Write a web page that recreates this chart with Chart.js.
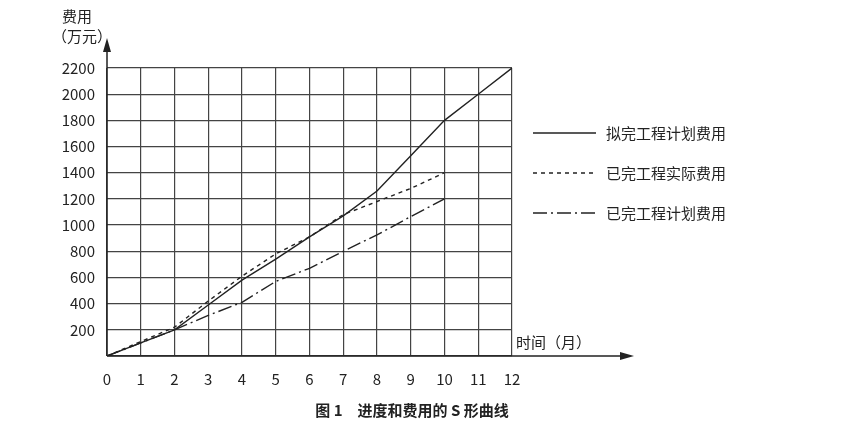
<!DOCTYPE html>
<html>
<head>
<meta charset="utf-8">
<script src="https://cdn.jsdelivr.net/npm/chart.js"></script>
<style>
  body { margin: 0; background: #fff; }
  #wrap { width: 847px; height: 440px; }
</style>
</head>
<body>
<div id="wrap"><canvas id="sCurve"></canvas></div>
<script>
// 数据
const months = [0, 1, 2, 3, 4, 5, 6, 7, 8, 9, 10, 11, 12];
const plannedCost = [0, 100, 200, 390, 580, 740, 910, 1070, 1260, 1530, 1800, 2000, 2200];
const actualCost = [0, 110, 220, 420, 610, 780, 910, 1080, 1180, 1280, 1400];
const earnedCost = [0, 100, 200, 310, 410, 570, 670, 800, 925, 1065, 1200];
const yTicks = [200, 400, 600, 800, 1000, 1200, 1400, 1600, 1800, 2000, 2200];
const legendLabels = ['拟完工程计划费用', '已完工程实际费用', '已完工程计划费用'];
const lineDashes = [[], [4, 4], [14, 4, 2, 4]];

const FONT = '"Noto Sans CJK SC", "Noto Sans", sans-serif';
const INK = '#222';

function toPoints(vals) {
    return vals.map(function (v, i) { return { x: months[i], y: v }; });
}

const decorPlugin = {
    id: 'decor',
    afterDraw: function (chart) {
        const ctx = chart.ctx;
        const xs = chart.scales.x, ys = chart.scales.y;
        const x0 = xs.getPixelForValue(0), y0 = ys.getPixelForValue(0);
        ctx.save();
        ctx.strokeStyle = INK;
        ctx.fillStyle = INK;
        ctx.lineWidth = 1.5;
        // 坐标轴 + 箭头
        ctx.beginPath();
        ctx.moveTo(x0, y0); ctx.lineTo(628, y0);
        ctx.moveTo(x0, y0); ctx.lineTo(x0, 44);
        ctx.stroke();
        ctx.beginPath();
        ctx.moveTo(634, y0); ctx.lineTo(620, y0 - 4); ctx.lineTo(620, y0 + 4); ctx.closePath();
        ctx.moveTo(x0, 38); ctx.lineTo(x0 - 4, 52); ctx.lineTo(x0 + 4, 52); ctx.closePath();
        ctx.fill();

        // 刻度标签
        ctx.font = '15px ' + FONT;
        ctx.textAlign = 'right';
        ctx.textBaseline = 'middle';
        yTicks.forEach(function (t) {
            ctx.fillText(String(t), x0 - 12, ys.getPixelForValue(t));
        });
        ctx.textAlign = 'center';
        ctx.textBaseline = 'top';
        months.forEach(function (m) {
            ctx.fillText(String(m), xs.getPixelForValue(m), y0 + 16);
        });

        // 轴标题
        ctx.textAlign = 'left';
        ctx.textBaseline = 'middle';
        ctx.fillText('费用', 62, 16);
        ctx.fillText('（万元）', 52, 36);
        ctx.fillText('时间（月）', 516, 342);

        // 图例
        ctx.lineWidth = 1.3;
        legendLabels.forEach(function (lab, i) {
            const y = 133 + i * 40;
            ctx.setLineDash(lineDashes[i]);
            ctx.beginPath();
            ctx.moveTo(533, y); ctx.lineTo(596, y);
            ctx.stroke();
            ctx.setLineDash([]);
            ctx.fillText(lab, 606, y);
        });

        // 图名
        ctx.font = 'bold 15px ' + FONT;
        ctx.textAlign = 'center';
        ctx.fillText('图 1　进度和费用的 S 形曲线', 412, 410);
        ctx.restore();
    }
};

new Chart(document.getElementById('sCurve'), {
    type: 'line',
    data: {
        datasets: [
            { label: legendLabels[0], data: toPoints(plannedCost), borderDash: lineDashes[0] },
            { label: legendLabels[1], data: toPoints(actualCost), borderDash: lineDashes[1] },
            { label: legendLabels[2], data: toPoints(earnedCost), borderDash: lineDashes[2] }
        ].map(function (d) {
            return Object.assign(d, { borderColor: INK, borderWidth: 1.4, pointRadius: 0, tension: 0, fill: false });
        })
    },
    options: {
        responsive: true,
        maintainAspectRatio: false,
        animation: false,
        devicePixelRatio: 1,
        layout: { padding: { left: 107, right: 335, top: 68, bottom: 84 } },
        plugins: { legend: { display: false }, tooltip: { enabled: false } },
        scales: {
            x: {
                type: 'linear', min: 0, max: 12,
                ticks: { display: false, stepSize: 1 },
                grid: { color: '#444', lineWidth: 1.2, drawTicks: false },
                border: { display: false }
            },
            y: {
                min: 0, max: 2200,
                ticks: { display: false, stepSize: 200 },
                grid: { color: '#444', lineWidth: 1.2, drawTicks: false },
                border: { display: false }
            }
        }
    },
    plugins: [decorPlugin]
});
</script>
</body>
</html>
